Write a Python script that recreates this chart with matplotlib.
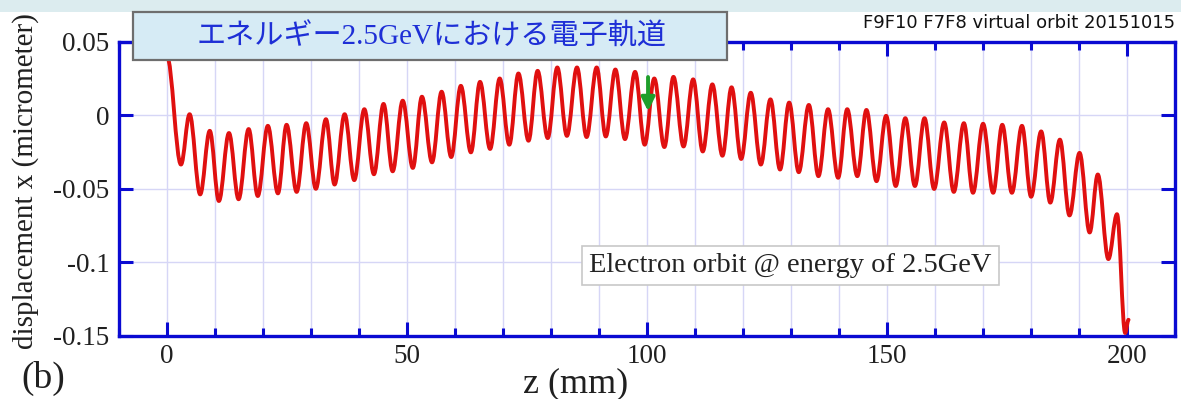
import numpy as np
import matplotlib.pyplot as plt
from matplotlib.path import Path
from matplotlib.patches import PathPatch, Rectangle
from matplotlib.ticker import MultipleLocator

# turning points of the orbit: z (mm), displacement x
z_pts = [0.0, 2.9, 4.7, 6.9, 8.9, 10.8, 12.9, 14.9, 17.0, 18.9, 21.0, 23.1, 24.9,
         27.0, 29.0, 31.0, 33.1, 34.9, 37.0, 39.0, 41.1, 43.1, 45.1, 47.0, 49.1,
         51.2, 53.1, 55.2, 57.2, 59.2, 61.2, 63.3, 65.2, 67.3, 69.3, 71.3, 73.2,
         75.3, 77.2, 79.3, 81.3, 83.3, 85.4, 87.4, 89.5, 91.4, 93.4, 95.4, 97.5, 99.5,
         101.5, 103.6, 105.5, 107.6, 109.6, 111.6, 113.6, 115.7, 117.6, 119.6, 121.6,
         123.7, 125.7, 127.7, 129.6, 131.6, 133.7, 135.7, 137.7, 139.8, 141.7, 143.8,
         145.7, 147.8, 149.8,
         151.8, 153.8, 155.8, 157.8, 159.8, 161.9, 163.9, 166.0, 167.9, 170.0, 172.1,
         174.0, 176.0, 178.1, 180.0, 182.1, 184.0, 186.0, 188.0, 190.1, 192.2, 193.9,
         196.1, 197.9, 199.6, 200.3]
x_pts = [0.040, -0.0334, 0.0008, -0.0537, -0.0105, -0.0582, -0.012, -0.057, -0.0093,
         -0.0548, -0.0071, -0.053, -0.0064, -0.052, -0.0053, -0.0499, -0.0026, -0.047,
         0.0008, -0.044, 0.0042, -0.040, 0.0078, -0.038, 0.0100,
         -0.0357, 0.0127, -0.0319, 0.0161, -0.0283, 0.0201, -0.0251, 0.0228, -0.0228,
         0.0251, -0.0199, 0.0285, -0.0172, 0.0303, -0.0154, 0.0326, -0.0139, 0.0326,
         -0.0147, 0.0326, -0.0143, 0.0312, -0.0161, 0.0296, -0.0199,
         0.0251, -0.0215, 0.0262, -0.0211, 0.0245, -0.0245, 0.0211, -0.0274, 0.0191,
         -0.0296, 0.0154, -0.0334, 0.0109, -0.0368, 0.0087, -0.0386, 0.0071, -0.0413,
         0.0042, -0.0424, 0.0042, -0.0413, 0.0037, -0.0447, -0.0003,
         -0.048, -0.0019, -0.048, -0.0019, -0.050, -0.0048, -0.052, -0.0053, -0.0526,
         -0.0057, -0.0526, -0.0064, -0.0526, -0.0071, -0.0553, -0.0109, -0.0593,
         -0.0165, -0.068, -0.0255, -0.0796, -0.0402, -0.0977, -0.0672, -0.148, -0.139]

y_ticks = [0.05, 0, -0.05, -0.1, -0.15]
y_ticklabels = ['0.05', '0', '-0.05', '-0.1', '-0.15']

arrow_z = 100.2
arrow_from, arrow_to = 0.028, 0.001

serif = ['Liberation Serif', 'DejaVu Serif']
blue = '#0a0ad2'

fig = plt.figure(figsize=(11.81, 3.99), dpi=100)
fig.patch.set_facecolor('white')
# pale band along the top edge of the screenshot
fig.add_artist(Rectangle((0, 0.970), 1, 0.03, transform=fig.transFigure,
                         facecolor='#dcecef', edgecolor='none', zorder=0))

ax = fig.add_axes([0.1008, 0.158, 0.8942, 0.737])
ax.set_xlim(-10, 210)
ax.set_ylim(-0.15, 0.05)

# smooth curve through the turning points (horizontal tangents at each one)
verts = [(z_pts[0], x_pts[0])]
codes = [Path.MOVETO]
for i in range(1, len(z_pts)):
    z0, y0 = z_pts[i - 1], x_pts[i - 1]
    z1, y1 = z_pts[i], x_pts[i]
    h = 0.364 * (z1 - z0)
    verts += [(z0 + h, y0), (z1 - h, y1), (z1, y1)]
    codes += [Path.CURVE4] * 3
ax.add_patch(PathPatch(Path(verts, codes), facecolor='none', edgecolor='#e01010',
                       lw=2.8, zorder=3, capstyle='round', joinstyle='round'))

ax.annotate('', xy=(arrow_z, arrow_to), xytext=(arrow_z, arrow_from),
            arrowprops=dict(arrowstyle='-|>,head_width=0.4,head_length=0.8',
                            color='#1e9e2a', lw=2.8), zorder=4)

ax.xaxis.set_major_locator(MultipleLocator(50))
ax.xaxis.set_minor_locator(MultipleLocator(10))
ax.set_yticks(y_ticks)
ax.set_yticklabels(y_ticklabels)
ax.grid(True, which='both', axis='x', color='#d6d6f6', lw=1.0)
ax.grid(True, which='major', axis='y', color='#d6d6f6', lw=1.0)
ax.set_axisbelow(True)

for s in ax.spines.values():
    s.set_color(blue)
    s.set_linewidth(2.4)
ax.tick_params(which='both', direction='in', top=True, right=True, color=blue,
               width=2.2, labelsize=19.5, labelcolor='#202020')
ax.tick_params(which='major', length=10)
ax.tick_params(which='minor', length=6)
ax.tick_params(axis='x', pad=6)
ax.tick_params(axis='y', pad=7)
for lab in ax.get_xticklabels() + ax.get_yticklabels():
    lab.set_family(serif)

ax.set_ylabel('displacement x (micrometer)', family=serif, fontsize=21,
              color='#202020')
ax.yaxis.set_label_coords(-0.076, 0.527)
fig.text(0.487, 0.016, 'z (mm)', family=serif, fontsize=26, color='#202020',
         ha='center', va='baseline')
fig.text(0.018, 0.028, '(b)', family=serif, fontsize=27, color='#202020',
         ha='left', va='baseline')

ax.text(0.636, 0.24, 'Electron orbit @ energy of 2.5GeV', transform=ax.transAxes,
        family=serif, fontsize=20.5, color='#222222', ha='center', va='center',
        zorder=6, bbox=dict(boxstyle='square,pad=0.25', facecolor='white',
                            edgecolor='#c8c8c8', lw=1.2))

# title box over the top spine
fig.add_artist(Rectangle((0.1126, 0.8496), 0.503, 0.1203, transform=fig.transFigure,
                         facecolor='#d6ebf5', edgecolor='#6e6e6e', lw=1.6, zorder=5))
fig.text(0.365, 0.907, 'エネルギー2.5GeVにおける電子軌道',
         family=['Liberation Serif', 'Noto Sans CJK JP'], fontsize=21,
         color='#1e2fd6', ha='center', va='center', zorder=6)

fig.text(0.995, 0.929, 'F9F10 F7F8 virtual orbit 20151015',
         family=['DejaVu Sans'], fontsize=13, color='#111111',
         ha='right', va='baseline', zorder=6)

fig.savefig('out.png', dpi=100)
